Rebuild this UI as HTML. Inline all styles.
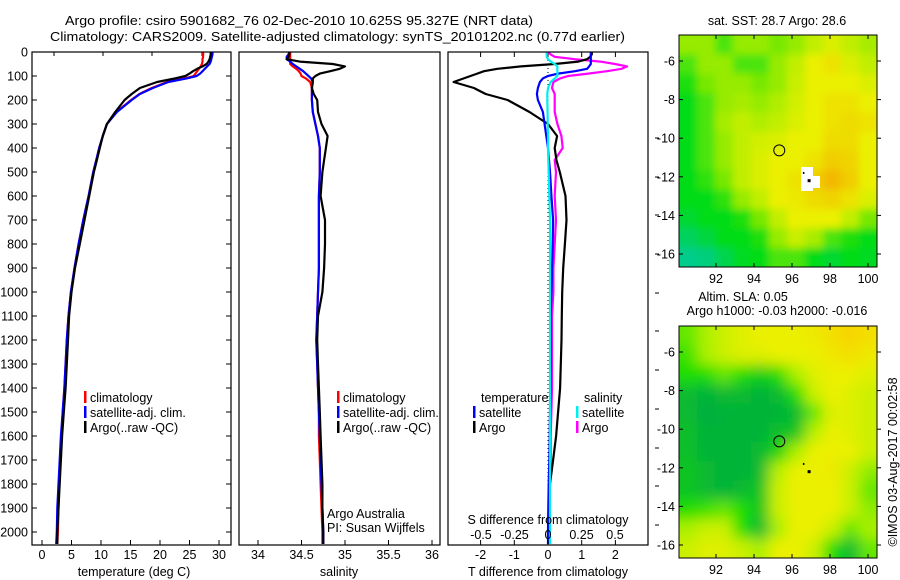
<!DOCTYPE html>
<html><head><meta charset="utf-8"><style>
body{margin:0;background:#fff;}
svg{display:block;font-family:"Liberation Sans",sans-serif;}
text{font-size:12.5px;fill:#000;}
</style></head><body>
<svg id="fig" width="900" height="580" viewBox="0 0 900 580" xmlns="http://www.w3.org/2000/svg">
<rect width="900" height="580" fill="#fff"/>
<text x="65" y="25" textLength="468" lengthAdjust="spacingAndGlyphs">Argo profile: csiro 5901682_76 02-Dec-2010 10.625S 95.327E (NRT data)</text>
<text x="50" y="41" textLength="575" lengthAdjust="spacingAndGlyphs">Climatology: CARS2009. Satellite-adjusted climatology: synTS_20101202.nc (0.77d earlier)</text>
<g id="g1"></g>
<g id="g2"></g>
<g id="g3"></g>
<g id="m1"></g>
<g id="m2"></g>
<text x="777" y="25" text-anchor="middle">sat. SST: 28.7 Argo: 28.6</text>
<text x="743" y="301" text-anchor="middle">Altim. SLA: 0.05</text>
<text x="777" y="315" text-anchor="middle">Argo h1000: -0.03 h2000: -0.016</text>
<text transform="translate(897,462) rotate(-90)" text-anchor="middle">©IMOS 03-Aug-2017 00:02:58</text>
</svg>
<script>
const depth=[0,10,20,30,40,50,60,70,80,90,100,110,125,150,175,200,250,300,350,400,450,500,600,700,800,900,1000,1100,1200,1300,1400,1500,1600,1700,1800,1900,2000,2050];
const tempArgo=[28.6,28.6,28.5,28.4,28.2,27.9,27.2,26.3,25.6,25.0,24.3,22.5,19.5,16.6,15.2,14.0,12.4,11.0,10.3,9.8,9.3,8.8,8.0,7.2,6.4,5.6,5.0,4.6,4.4,4.2,4.0,3.7,3.4,3.2,3.0,2.8,2.6,2.6];
const tempSat=[28.9,28.9,28.8,28.7,28.6,28.4,28.0,27.6,27.2,26.8,26.2,24.5,21.4,18.8,16.6,15.2,12.7,11.0,10.3,9.7,9.2,8.7,7.9,7.0,6.2,5.5,4.9,4.5,4.2,4.0,3.8,3.5,3.2,3.0,2.8,2.6,2.5,2.4];
const tempClim=[27.3,27.3,27.3,27.2,27.2,27.1,26.9,26.6,26.3,26.0,25.7,24.2,21.2,18.6,16.5,15.1,12.6,11.0,10.3,9.7,9.2,8.7,7.9,7.0,6.2,5.5,4.9,4.5,4.2,4.0,3.8,3.5,3.3,3.1,2.9,2.8,2.7,2.6];
const salArgo=[34.36,34.36,34.35,34.33,34.48,34.86,35.0,34.94,34.83,34.71,34.66,34.63,34.63,34.62,34.64,34.68,34.69,34.73,34.80,34.78,34.76,34.74,34.72,34.77,34.77,34.76,34.74,34.69,34.68,34.69,34.70,34.71,34.72,34.73,34.74,34.74,34.75,34.75];
const salSat=[34.36,34.35,34.33,34.33,34.37,34.40,34.44,34.48,34.52,34.55,34.58,34.61,34.63,34.62,34.62,34.62,34.63,34.66,34.69,34.71,34.71,34.71,34.70,34.70,34.70,34.70,34.69,34.68,34.67,34.68,34.69,34.70,34.71,34.72,34.73,34.74,34.75,34.75];
const salClim=[34.37,34.37,34.37,34.37,34.37,34.37,34.40,34.44,34.47,34.49,34.50,34.55,34.60,34.62,34.62,34.62,34.63,34.66,34.69,34.71,34.71,34.71,34.70,34.70,34.70,34.70,34.69,34.68,34.67,34.68,34.69,34.70,34.70,34.71,34.72,34.73,34.74,34.74];
const dTArgo=[1.3,1.3,1.25,1.16,0.9,0.2,-0.8,-1.5,-1.9,-2.1,-2.3,-2.5,-2.8,-2.2,-1.85,-1.2,-0.55,0.0,0.27,0.2,0.25,0.35,0.52,0.55,0.5,0.45,0.42,0.41,0.4,0.38,0.36,0.3,0.24,0.15,0.06,0.04,0.03,0.03];
const dTSat=[1.27,1.27,1.27,1.27,1.27,1.27,1.22,1.16,0.8,0.3,0.0,-0.15,-0.24,-0.30,-0.33,-0.30,-0.15,-0.1,-0.05,0.0,0.03,0.06,0.1,0.15,0.14,0.12,0.1,0.08,0.08,0.08,0.07,0.06,0.05,0.04,0.02,0.01,0.0,0.0];
const dSArgo=[0,0.02,0.05,0.2,0.39,0.5,0.59,0.55,0.44,0.3,0.15,0.09,0.04,0.03,0.05,0.05,0.05,0.07,0.1,0.11,0.05,0.06,0.05,0.06,0.05,0.04,0.04,0.03,0.03,0.03,0.03,0.025,0.02,0.02,0.015,0.01,0.01,0.01];
const dSSat=[-0.01,-0.01,-0.01,0,0.02,0.05,0.07,0.07,0.07,0.07,0.07,0.05,0.02,0,-0.005,-0.005,-0.003,-0.002,0,0,0.002,0.005,0.01,0.015,0.015,0.015,0.015,0.015,0.015,0.015,0.015,0.015,0.015,0.015,0.015,0.015,0.015,0.015];
const depthTicks=[0,100,200,300,400,500,600,700,800,900,1000,1100,1200,1300,1400,1500,1600,1700,1800,1900,2000];
const tempTicks=[0,5,10,15,20,25,30];
const salTicks=[34,34.5,35,35.5,36];
const salTickLabels=["34","34.5","35","35.5","36"];
const dTTicks=[-2,-1,0,1,2];
const dSTicks=[-0.5,-0.25,0,0.25,0.5];
const dSTickLabels=["-0.5","-0.25","0","0.25","0.5"];
const lonTicks=[92,94,96,98,100];
const latTicks=[-6,-8,-10,-12,-14,-16];
const sstGrid=[
[2,2,1.5,2,2,1.8,2,2.5,2.8,2.5,2.2],
[1.5,2,2,1.5,1.5,2,2.5,3,3.2,2.8,2.5],
[1.2,1.8,2,2,1.8,2,2.6,3,3,3,2.8],
[1,1.5,2,2.2,2,2.3,2.7,3,3.2,3.2,3],
[1,1.5,2.2,2.5,2.3,2.5,2.8,3,3.2,3.3,3.2],
[1,1.5,2,2.5,2.7,2.8,3,3,3.3,3.3,3],
[1,1.5,2,2.5,2.8,3,3,3.2,3.5,3.4,3],
[1,1.3,1.8,2.5,2.8,3,3.2,3.5,3.8,3.5,3],
[1,1,1.3,2,2.5,3,3.1,3.3,3.4,3.2,2.8],
[0.8,1,1,1.2,1.8,2.5,3,3,3,2.5,1.8],
[0.5,0.7,1,1,1.2,2,2.6,2.2,1.5,1.2,1],
[0.2,0.3,0.6,0.9,1,1.5,1.5,1,0.8,1,0.9]];
const slaGrid=[
[1.5,2,2.5,2.8,3,3,3,3.2,3.5,3.8,3.5],
[1.2,2,2.5,2.8,2.8,3,3,3,3.3,3.5,3.2],
[1,1,1.5,1,0.7,1,2,2.8,3,3,2.8],
[0.3,0.2,0.3,0.3,0.2,0.3,1,2.5,3,2.8,2.5],
[0.3,0.1,0.2,0.2,0.2,0.2,0.3,1.5,2.8,2.8,2.5],
[0.4,0.2,0.2,0.2,0.2,0.4,0.5,2.2,3,2.8,2.5],
[0.4,0.2,0.2,0.2,0.3,0.8,2,3,3,3,2.5],
[0.5,0.3,0.2,0.2,0.3,2.2,3,3,3.2,2.5,1.8],
[0.5,0.3,0.2,0.3,0.5,2.5,3,3,3,2.5,1.5],
[1,1.2,1.5,1,0.5,2.5,3,3,3,2.5,1.8],
[2,2.5,2.5,1,0.3,2,3,3,2.5,1.5,2],
[2.5,2.8,2.8,2.5,2,3,3,2.5,1,0.3,1.5]];
const argoLon=95.33, argoLat=-10.63;

const NS="http://www.w3.org/2000/svg";
const svg=document.getElementById('fig');
function mk(parent,tag,attrs,txt){const e=document.createElementNS(NS,tag);for(const k in attrs)e.setAttribute(k,attrs[k]);if(txt!==undefined)e.textContent=txt;parent.appendChild(e);return e;}
const Y0=52,Y1=545;
const yD=d=>Y0+0.24*d;
const xT=t=>42+5.9*t, xS=s=>258+87*(s-34), xdT=v=>548+33.7*v, xdS=v=>548+134*v;

function line(g,vals,fx,color,name){
  const p=vals.map((v,i)=>(i?'L':'M')+fx(v).toFixed(1)+','+yD(depth[i]).toFixed(1)).join('');
  const e=mk(g,'path',{d:p,fill:'none',stroke:color,'stroke-width':2.2,'stroke-linejoin':'round'});
  
  
}
function frame(g,x0,x1){
  const r=mk(g,'rect',{x:x0,y:Y0,width:x1-x0,height:Y1-Y0,fill:'none',stroke:'#000','stroke-width':1.2});
  
  
}
function bottomTicks(g,ticks,labels,fx,ly){
  ticks.forEach((t,i)=>{const x=fx(t);
    mk(g,'line',{x1:x,x2:x,y1:Y1,y2:Y1-5,stroke:'#000'});
    const l=mk(g,'text',{x:x,y:ly,'text-anchor':'middle'},labels[i]);
    
    
  });
}
function legendEntry(g,x,y,color,label){
  mk(g,'rect',{x:x-4,y:y-11,width:2.5,height:12,fill:color});
  const t=mk(g,'text',{x:x+2,y:y},label);
  
  
}
function legendText(g,x,y,label){const t=mk(g,'text',{x:x,y:y},label);
  
  }

// Panel 1
const g1=document.getElementById('g1');
depthTicks.forEach(d=>{const y=yD(d);
  mk(g1,'line',{x1:32,x2:37,y1:y,y2:y,stroke:'#000'});
  mk(g1,'line',{x1:231,x2:226,y1:y,y2:y,stroke:'#000'});
  const l=mk(g1,'text',{x:28,y:y+4.5,'text-anchor':'end'},String(d));
  
  
});
[54,103,152,202].forEach(x=>mk(g1,'line',{x1:x,x2:x,y1:Y0,y2:Y0+4,stroke:'#000'}));
line(g1,tempClim,xT,'#f00','temp-climatology-line');
line(g1,tempSat,xT,'#00f','temp-satellite-line');
line(g1,tempArgo,xT,'#000','temp-argo-line');
frame(g1,32,231);
bottomTicks(g1,tempTicks,tempTicks.map(String),xT,559);
{const t=mk(g1,'text',{x:134,y:576,'text-anchor':'middle'},'temperature (deg C)');}
legendEntry(g1,88,402,'#f00','climatology');
legendEntry(g1,88,417,'#00f','satellite-adj. clim.');
legendEntry(g1,88,432,'#000','Argo(..raw -QC)');

// Panel 2
const g2=document.getElementById('g2');
line(g2,salClim,xS,'#f00','sal-climatology-line');
line(g2,salSat,xS,'#00f','sal-satellite-line');
line(g2,salArgo,xS,'#000','sal-argo-line');
frame(g2,239,440);
bottomTicks(g2,salTicks,salTickLabels,xS,559);
{const t=mk(g2,'text',{x:339,y:576,'text-anchor':'middle'},'salinity');}
legendEntry(g2,341,402,'#f00','climatology');
legendEntry(g2,341,417,'#00f','satellite-adj. clim.');
legendEntry(g2,341,432,'#000','Argo(..raw -QC)');
{const t=mk(g2,'text',{x:327,y:518},'Argo Australia');
 const u=mk(g2,'text',{x:327,y:532},'PI: Susan Wijffels');}

// Panel 3
const g3=document.getElementById('g3');
mk(g3,'line',{x1:548,x2:548,y1:Y0,y2:Y1,stroke:'#000','stroke-dasharray':'1,3'});
dTTicks.forEach(t=>mk(g3,'line',{x1:xdT(t),x2:xdT(t),y1:Y0,y2:Y0+5,stroke:'#000'}));
line(g3,dSArgo,xdS,'#f0f','s-diff-argo-line');
line(g3,dTArgo,xdT,'#000','t-diff-argo-line');
line(g3,dTSat,xdT,'#00f','t-diff-satellite-line');
line(g3,dSSat,xdS,'#0ee','s-diff-satellite-line');
frame(g3,448,648);
bottomTicks(g3,dTTicks,dTTicks.map(String),xdT,559);
dSTicks.forEach((t,i)=>{const l=mk(g3,'text',{x:xdS(t),y:539,'text-anchor':'middle'},dSTickLabels[i]);});
{const t=mk(g3,'text',{x:548,y:524,'text-anchor':'middle'},'S difference from climatology');
 const u=mk(g3,'text',{x:548,y:576,'text-anchor':'middle'},'T difference from climatology');}
legendText(g3,481,402,'temperature');
legendEntry(g3,477,417,'#00f','satellite');
legendEntry(g3,477,432,'#000','Argo');
legendText(g3,584,402,'salinity');
legendEntry(g3,580,417,'#0ee','satellite');
legendEntry(g3,580,432,'#f0f','Argo');
[138,177,215,254,293,331,370,409,448,486,525].forEach(y=>mk(g3,'line',{x1:655,x2:659,y1:y,y2:y,stroke:'#000'}));

// Maps
const sstStops=[[0,200,170],[0,220,20],[150,235,0],[235,240,0],[245,170,0]];
const slaStops=[[0,170,70],[30,222,0],[170,240,0],[235,240,0],[250,205,0]];
function cmap(st,v){v=Math.max(0,Math.min(4,v));const i=Math.min(3,Math.floor(v)),f=v-i;const a=st[i],b=st[i+1];
  return 'rgb('+a.map((c,k)=>Math.round(c+(b[k]-c)*f)).join(',')+')';}
function drawMap(id,grid,stops,top,blur){
  const g=document.getElementById(id);
  const X0=679,X1=877,T=top,B=top+232;
  const xL=lon=>716+19*(lon-92), yL=lat=>T+26+19.3*(-6-lat)*-1*-1;
  const yLat=lat=>(T+26)+19.3*(-6-lat);
  const cid='clip'+id, fid='blur'+id;
  const defs=mk(g,'defs',{});
  const cp=mk(defs,'clipPath',{id:cid});mk(cp,'rect',{x:X0,y:T,width:X1-X0,height:B-T});
  const fl=mk(defs,'filter',{id:fid,x:'-10%',y:'-10%',width:'120%',height:'120%'});mk(fl,'feGaussianBlur',{stdDeviation:blur});
  const cg=mk(g,'g',{'clip-path':'url(#'+cid+')'});
  const hg=mk(cg,'g',{filter:'url(#'+fid+')'});
  const rows=grid.length,cols=grid[0].length,cw=(X1-X0)/cols,ch=(B-T)/rows;
  grid.forEach((row,r)=>row.forEach((v,c)=>{
    let x=X0+c*cw,y=T+r*ch,w=cw+0.6,h=ch+0.6;
    if(c==0){x-=20;w+=20;} if(c==cols-1){w+=20;}
    if(r==0){y-=20;h+=20;} if(r==rows-1){h+=20;}
    const e=mk(hg,'rect',{x:x,y:y,width:w,height:h,fill:cmap(stops,v)});
    
    
  }));
  if(id==='m1'){mk(cg,'rect',{x:801,y:167,width:12,height:24,fill:'#fff'});mk(cg,'rect',{x:812,y:176,width:8,height:12,fill:'#fff'});}
  mk(cg,'rect',{x:xL(96.9)-1.5,y:yLat(-12.2)-1.5,width:3,height:3,fill:'#000'});
  mk(cg,'rect',{x:xL(96.6)-0.5,y:yLat(-11.8)-1,width:1.5,height:2,fill:'#000'});
  const c=mk(g,'circle',{cx:xL(argoLon),cy:yLat(argoLat),r:5.5,fill:'none',stroke:'#000','stroke-width':1});
  
  
  mk(g,'rect',{x:X0,y:T,width:X1-X0,height:B-T,fill:'none',stroke:'#000','stroke-width':1});
  lonTicks.forEach(l=>{const x=xL(l);mk(g,'line',{x1:x,x2:x,y1:B,y2:B-4,stroke:'#000'});mk(g,'line',{x1:x,x2:x,y1:T,y2:T+4,stroke:'#000'});
    const t=mk(g,'text',{x:x,y:B+16,'text-anchor':'middle'},String(l));});
  latTicks.forEach(l=>{const y=yLat(l);mk(g,'line',{x1:X0,x2:X0+4,y1:y,y2:y,stroke:'#000'});mk(g,'line',{x1:X1,x2:X1+4,y1:y,y2:y,stroke:'#000'});
    const t=mk(g,'text',{x:X0-4,y:y+4.5,'text-anchor':'end'},String(l));});
}
drawMap('m1',sstGrid,sstStops,35,4);
drawMap('m2',slaGrid,slaStops,326,7);
</script>
</body></html>
